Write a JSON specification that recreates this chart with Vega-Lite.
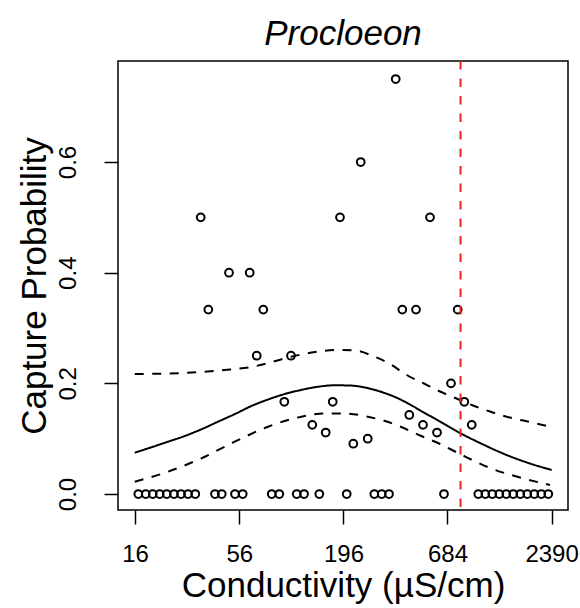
{
  "$schema": "https://vega.github.io/schema/vega-lite/v6.json",
  "autosize": "none",
  "padding": {"left": 118, "top": 61, "right": 12, "bottom": 98},
  "width": 450,
  "height": 449,
  "background": "white",
  "config": {
    "font": "Liberation Sans",
    "view": {"stroke": "black", "strokeWidth": 1.5},
    "axis": {"grid": false, "domain": false, "tickColor": "black", "tickWidth": 1.5, "tickSize": 14, "labelColor": "black", "titleColor": "black", "labelFont": "Liberation Sans", "titleFont": "Liberation Sans", "labelFontSize": 24, "titleFontSize": 35, "titleFontWeight": "normal"}
  },
  "title": {"text": "Procloeon", "font": "Liberation Sans", "fontStyle": "italic", "fontWeight": "normal", "fontSize": 35, "color": "black", "anchor": "middle", "offset": 8},
  "datasets": {
    "obs": [
      {"conductivity": 16.65, "prob": 0}, {"conductivity": 18.2, "prob": 0}, {"conductivity": 19.8, "prob": 0}, {"conductivity": 21.53, "prob": 0}, {"conductivity": 23.42, "prob": 0}, {"conductivity": 25.56, "prob": 0}, {"conductivity": 27.81, "prob": 0}, {"conductivity": 30.25, "prob": 0}, {"conductivity": 33.02, "prob": 0},
      {"conductivity": 41.84, "prob": 0}, {"conductivity": 45.36, "prob": 0}, {"conductivity": 53.21, "prob": 0}, {"conductivity": 58.37, "prob": 0}, {"conductivity": 82.73, "prob": 0}, {"conductivity": 90.6, "prob": 0}, {"conductivity": 111.7, "prob": 0}, {"conductivity": 122.0, "prob": 0}, {"conductivity": 146.6, "prob": 0}, {"conductivity": 203.7, "prob": 0}, {"conductivity": 283.9, "prob": 0}, {"conductivity": 310.2, "prob": 0}, {"conductivity": 338.7, "prob": 0}, {"conductivity": 655.7, "prob": 0},
      {"conductivity": 990.5, "prob": 0}, {"conductivity": 1077.6, "prob": 0}, {"conductivity": 1172, "prob": 0}, {"conductivity": 1275, "prob": 0}, {"conductivity": 1387, "prob": 0}, {"conductivity": 1508, "prob": 0}, {"conductivity": 1641, "prob": 0}, {"conductivity": 1785, "prob": 0}, {"conductivity": 1942, "prob": 0}, {"conductivity": 2112, "prob": 0}, {"conductivity": 2297, "prob": 0},
      {"conductivity": 367.1, "prob": 0.75},
      {"conductivity": 241.1, "prob": 0.6},
      {"conductivity": 35.24, "prob": 0.5}, {"conductivity": 187.9, "prob": 0.5}, {"conductivity": 554.3, "prob": 0.5},
      {"conductivity": 49.51, "prob": 0.4}, {"conductivity": 63.5, "prob": 0.4},
      {"conductivity": 38.61, "prob": 0.3333}, {"conductivity": 74.76, "prob": 0.3333}, {"conductivity": 397.4, "prob": 0.3333}, {"conductivity": 468.5, "prob": 0.3333}, {"conductivity": 773.3, "prob": 0.3333},
      {"conductivity": 69.08, "prob": 0.25}, {"conductivity": 104.3, "prob": 0.25},
      {"conductivity": 713.6, "prob": 0.2},
      {"conductivity": 96.23, "prob": 0.1667}, {"conductivity": 172.2, "prob": 0.1667}, {"conductivity": 837.2, "prob": 0.1667},
      {"conductivity": 432.2, "prob": 0.1429},
      {"conductivity": 134.7, "prob": 0.125}, {"conductivity": 509.6, "prob": 0.125}, {"conductivity": 915.2, "prob": 0.125},
      {"conductivity": 158.3, "prob": 0.1111}, {"conductivity": 603.1, "prob": 0.1111},
      {"conductivity": 262.2, "prob": 0.1},
      {"conductivity": 220.5, "prob": 0.0909}
    ],
    "curves": [
      {"band": "fit", "conductivity": 15.94, "p": 0.0746}, {"band": "fit", "conductivity": 23.78, "p": 0.0945}, {"band": "fit", "conductivity": 29.08, "p": 0.1048}, {"band": "fit", "conductivity": 35.49, "p": 0.1169}, {"band": "fit", "conductivity": 43.39, "p": 0.1307}, {"band": "fit", "conductivity": 53.21, "p": 0.1446}, {"band": "fit", "conductivity": 64.73, "p": 0.159}, {"band": "fit", "conductivity": 79.12, "p": 0.1708}, {"band": "fit", "conductivity": 96.69, "p": 0.1807}, {"band": "fit", "conductivity": 117.6, "p": 0.188}, {"band": "fit", "conductivity": 144.3, "p": 0.1939}, {"band": "fit", "conductivity": 177.0, "p": 0.1965}, {"band": "fit", "conductivity": 212.0, "p": 0.1961}, {"band": "fit", "conductivity": 253.8, "p": 0.1925}, {"band": "fit", "conductivity": 303.9, "p": 0.1853}, {"band": "fit", "conductivity": 364.0, "p": 0.1753}, {"band": "fit", "conductivity": 435.8, "p": 0.1618}, {"band": "fit", "conductivity": 509.6, "p": 0.1482}, {"band": "fit", "conductivity": 625.2, "p": 0.131}, {"band": "fit", "conductivity": 794.9, "p": 0.1102}, {"band": "fit", "conductivity": 1010.9, "p": 0.0922}, {"band": "fit", "conductivity": 1393.6, "p": 0.0705}, {"band": "fit", "conductivity": 1843.5, "p": 0.0551}, {"band": "fit", "conductivity": 2392.5, "p": 0.0434},
      {"band": "upper", "conductivity": 15.94, "p": 0.2169}, {"band": "upper", "conductivity": 24.37, "p": 0.2178}, {"band": "upper", "conductivity": 35.49, "p": 0.2205}, {"band": "upper", "conductivity": 50.11, "p": 0.225}, {"band": "upper", "conductivity": 64.73, "p": 0.2295}, {"band": "upper", "conductivity": 81.04, "p": 0.2377}, {"band": "upper", "conductivity": 104.7, "p": 0.2481}, {"band": "upper", "conductivity": 139.2, "p": 0.2566}, {"band": "upper", "conductivity": 183.5, "p": 0.2603}, {"band": "upper", "conductivity": 225.1, "p": 0.2594}, {"band": "upper", "conductivity": 279.4, "p": 0.2494}, {"band": "upper", "conductivity": 342.8, "p": 0.235}, {"band": "upper", "conductivity": 419.0, "p": 0.2151}, {"band": "upper", "conductivity": 509.6, "p": 0.2006}, {"band": "upper", "conductivity": 625.2, "p": 0.1853}, {"band": "upper", "conductivity": 794.9, "p": 0.1699}, {"band": "upper", "conductivity": 929.1, "p": 0.16}, {"band": "upper", "conductivity": 1140, "p": 0.1491}, {"band": "upper", "conductivity": 1393.6, "p": 0.1397}, {"band": "upper", "conductivity": 1843.5, "p": 0.1301}, {"band": "upper", "conductivity": 2392.5, "p": 0.1211},
      {"band": "lower", "conductivity": 15.94, "p": 0.0222}, {"band": "lower", "conductivity": 23.78, "p": 0.0403}, {"band": "lower", "conductivity": 35.49, "p": 0.0645}, {"band": "lower", "conductivity": 53.03, "p": 0.0945}, {"band": "lower", "conductivity": 79.12, "p": 0.1216}, {"band": "lower", "conductivity": 118.1, "p": 0.1397}, {"band": "lower", "conductivity": 157.0, "p": 0.1455}, {"band": "lower", "conductivity": 199.6, "p": 0.1455}, {"band": "lower", "conductivity": 259.1, "p": 0.1401}, {"band": "lower", "conductivity": 322.8, "p": 0.1319}, {"band": "lower", "conductivity": 386.6, "p": 0.122}, {"band": "lower", "conductivity": 491.6, "p": 0.1057}, {"band": "lower", "conductivity": 625.2, "p": 0.0904}, {"band": "lower", "conductivity": 794.9, "p": 0.0723}, {"band": "lower", "conductivity": 1140, "p": 0.047}, {"band": "lower", "conductivity": 1635, "p": 0.0298}, {"band": "lower", "conductivity": 2344, "p": 0.0163}
    ],
    "threshold": [{"conductivity": 800}]
  },
  "layer": [
    {
      "data": {"name": "curves"},
      "mark": {"type": "line", "color": "black", "strokeWidth": 2, "interpolate": "monotone"},
      "encoding": {
        "x": {"field": "conductivity", "type": "quantitative", "scale": {"type": "log", "domain": [13.04, 2911], "nice": false, "zero": false},
              "axis": {"values": [16, 56, 196, 684, 2390], "format": "d", "title": "Conductivity (µS/cm)", "labelPadding": 18, "titlePadding": 2, "labelFlush": false}},
        "y": {"field": "p", "type": "quantitative", "scale": {"domain": [-0.0289, 0.7826], "nice": false, "zero": false},
              "axis": {"values": [0, 0.2, 0.4, 0.6], "format": ".1f", "title": "Capture Probability", "labelAngle": -90, "labelAlign": "center", "labelBaseline": "bottom", "labelPadding": 24, "titlePadding": 4}},
        "strokeDash": {"field": "band", "type": "nominal", "scale": {"domain": ["fit", "upper", "lower"], "range": [[1, 0], [9, 8.5], [9, 8.5]]}, "legend": null}
      }
    },
    {
      "data": {"name": "obs"},
      "mark": {"type": "point", "shape": "circle", "filled": false, "color": "black", "size": 60, "strokeWidth": 2, "opacity": 1},
      "encoding": {
        "x": {"field": "conductivity", "type": "quantitative"},
        "y": {"field": "prob", "type": "quantitative"}
      }
    },
    {
      "data": {"name": "threshold"},
      "mark": {"type": "rule", "color": "#ee2222", "strokeWidth": 2, "strokeDash": [8.5, 9]},
      "encoding": {
        "x": {"field": "conductivity", "type": "quantitative"}
      }
    }
  ]
}
